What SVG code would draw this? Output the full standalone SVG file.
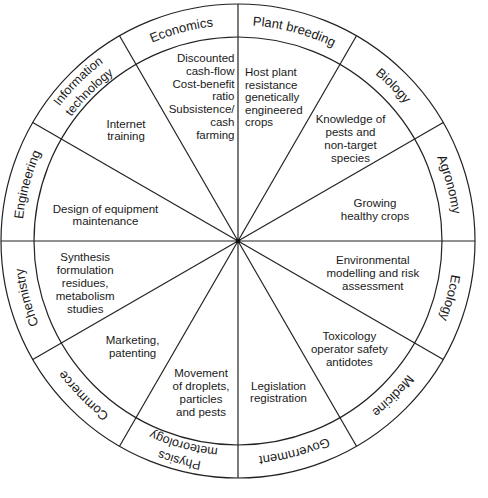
<svg xmlns="http://www.w3.org/2000/svg" xmlns:xlink="http://www.w3.org/1999/xlink" width="488" height="498" viewBox="0 0 488 498">
<style>
.ln{stroke:#222;stroke-width:1.2;fill:none}
.t{font-family:"Liberation Sans",Arial,sans-serif;font-size:11.5px;fill:#1a1a1a}
.m{text-anchor:middle}
.e{text-anchor:end}
.r{font-family:"Liberation Sans",Arial,sans-serif;font-size:13px;fill:#1a1a1a;text-anchor:middle}
.r2{font-size:12.5px}
</style>
<defs>
<path id="c216" d="M 22 241 A 216 216 0 1 1 454 241 A 216 216 0 1 1 22 241"/>
<path id="c223" d="M 14.5 241 A 223.5 223.5 0 1 1 461.5 241 A 223.5 223.5 0 1 1 14.5 241"/>
<path id="c208" d="M 30 241 A 208 208 0 1 1 446 241 A 208 208 0 1 1 30 241"/>
</defs>
<rect width="488" height="498" fill="#fff"/>
<g id="wheel">
<circle class="ln" cx="238" cy="241" r="237"/>
<circle class="ln" cx="238" cy="241" r="204"/>
</g>
<g id="connectors">
<line class="ln" x1="238" y1="241" x2="475" y2="241"/>
<line class="ln" x1="238" y1="241" x2="443.25" y2="122.5"/>
<line class="ln" x1="238" y1="241" x2="356.5" y2="35.75"/>
<line class="ln" x1="238" y1="241" x2="238" y2="4"/>
<line class="ln" x1="238" y1="241" x2="119.5" y2="35.75"/>
<line class="ln" x1="238" y1="241" x2="32.75" y2="122.5"/>
<line class="ln" x1="238" y1="241" x2="1" y2="241"/>
<line class="ln" x1="238" y1="241" x2="32.75" y2="359.5"/>
<line class="ln" x1="238" y1="241" x2="119.5" y2="446.25"/>
<line class="ln" x1="238" y1="241" x2="238" y2="478"/>
<line class="ln" x1="238" y1="241" x2="356.5" y2="446.25"/>
<line class="ln" x1="238" y1="241" x2="443.25" y2="359.5"/>
<circle cx="238" cy="241" r="2.3" fill="#111"/>
</g>
<g id="economics">
<text class="r"><textPath xlink:href="#c216" href="#c216" startOffset="20.833%">Economics</textPath></text>
<text class="t e"><tspan x="234.5" y="62">Discounted</tspan><tspan x="234.5" y="74.75">cash-flow</tspan><tspan x="234.5" y="87.5">Cost-benefit</tspan><tspan x="234.5" y="100.25">ratio</tspan><tspan x="234.5" y="113">Subsistence/</tspan><tspan x="234.5" y="125.75">cash</tspan><tspan x="234.5" y="138.5">farming</tspan></text>
</g>
<g id="plant-breeding">
<text class="r"><textPath xlink:href="#c216" href="#c216" startOffset="29.167%">Plant breeding</textPath></text>
<text class="t"><tspan x="245" y="76">Host plant</tspan><tspan x="245" y="88.5">resistance</tspan><tspan x="245" y="101">genetically</tspan><tspan x="245" y="113.5">engineered</tspan><tspan x="245" y="126">crops</tspan></text>
</g>
<g id="biology">
<text class="r"><textPath xlink:href="#c216" href="#c216" startOffset="37.5%">Biology</textPath></text>
<text class="t m"><tspan x="350.5" y="122.5">Knowledge of</tspan><tspan x="350.5" y="135.5">pests and</tspan><tspan x="350.5" y="148.5">non-target</tspan><tspan x="350.5" y="161.5">species</tspan></text>
</g>
<g id="agronomy">
<text class="r"><textPath xlink:href="#c216" href="#c216" startOffset="45.833%">Agronomy</textPath></text>
<text class="t m"><tspan x="375" y="206.5">Growing</tspan><tspan x="375" y="219.5">healthy crops</tspan></text>
</g>
<g id="ecology">
<text class="r"><textPath xlink:href="#c216" href="#c216" startOffset="54.167%">Ecology</textPath></text>
<text class="t m"><tspan x="372.8" y="263.5">Environmental</tspan><tspan x="372.8" y="276.5">modelling and risk</tspan><tspan x="372.8" y="289.5">assessment</tspan></text>
</g>
<g id="medicine">
<text class="r"><textPath xlink:href="#c216" href="#c216" startOffset="62.5%">Medicine</textPath></text>
<text class="t m"><tspan x="349.3" y="340">Toxicology</tspan><tspan x="349.3" y="353">operator safety</tspan><tspan x="349.3" y="366">antidotes</tspan></text>
</g>
<g id="government">
<text class="r"><textPath xlink:href="#c216" href="#c216" startOffset="70.833%">Government</textPath></text>
<text class="t m"><tspan x="278.5" y="389.5">Legislation</tspan><tspan x="278.5" y="402.3">registration</tspan></text>
</g>
<g id="physics-meteorology">
<text class="r r2"><textPath xlink:href="#c223" href="#c223" startOffset="79.167%">Physics</textPath></text>
<text class="r r2"><textPath xlink:href="#c208" href="#c208" startOffset="79.167%">meteorology</textPath></text>
<text class="t m"><tspan x="201" y="377.3">Movement</tspan><tspan x="201" y="390.3">of droplets,</tspan><tspan x="201" y="403.3">particles</tspan><tspan x="201" y="416.3">and pests</tspan></text>
</g>
<g id="commerce">
<text class="r"><textPath xlink:href="#c216" href="#c216" startOffset="87.5%">Commerce</textPath></text>
<text class="t m"><tspan x="132.6" y="344">Marketing,</tspan><tspan x="132.6" y="357">patenting</tspan></text>
</g>
<g id="chemistry">
<text class="r"><textPath xlink:href="#c216" href="#c216" startOffset="95.833%">Chemistry</textPath></text>
<text class="t m"><tspan x="85.2" y="260.5">Synthesis</tspan><tspan x="85.2" y="273.5">formulation</tspan><tspan x="85.2" y="286.5">residues,</tspan><tspan x="85.2" y="299.7">metabolism</tspan><tspan x="85.2" y="312.8">studies</tspan></text>
</g>
<g id="engineering">
<text class="r"><textPath xlink:href="#c216" href="#c216" startOffset="4.167%">Engineering</textPath></text>
<text class="t m"><tspan x="105.5" y="212.5">Design of equipment</tspan><tspan x="105.5" y="224.5">maintenance</tspan></text>
</g>
<g id="information-technology">
<text class="r r2"><textPath xlink:href="#c223" href="#c223" startOffset="12.5%">Information</textPath></text>
<text class="r r2"><textPath xlink:href="#c208" href="#c208" startOffset="12.5%">technology</textPath></text>
<text class="t m"><tspan x="126" y="127.5">Internet</tspan><tspan x="126" y="140.2">training</tspan></text>
</g>
</svg>
